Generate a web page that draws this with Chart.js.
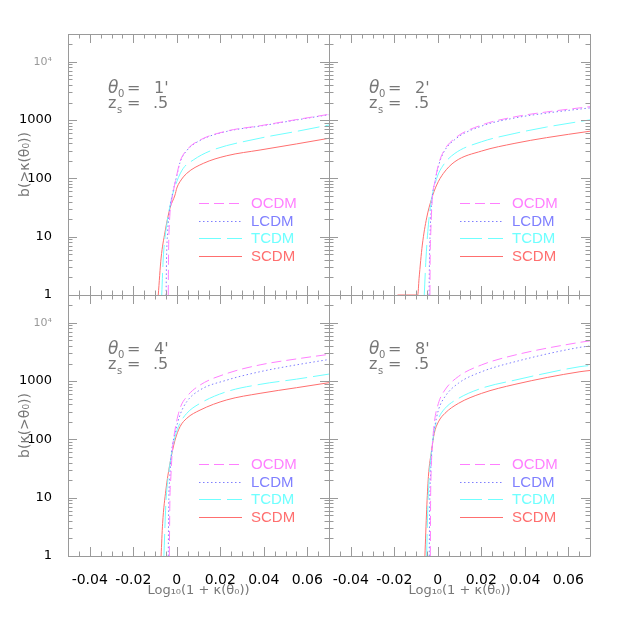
<!DOCTYPE html>
<html>
<head>
<meta charset="utf-8">
<script src="https://cdn.jsdelivr.net/npm/chart.js@4.4.0/dist/chart.umd.min.js"></script>
<style>
  html, body { margin: 0; padding: 0; background: #fff; }
  #wrap { position: relative; width: 623px; height: 623px; }
  #wrap canvas { position: absolute; left: 0; top: 0; }
</style>
</head>
<body>
<div id="wrap">
  <canvas id="p1" width="623" height="623"></canvas>
  <canvas id="p2" width="623" height="623"></canvas>
  <canvas id="p3" width="623" height="623"></canvas>
  <canvas id="p4" width="623" height="623"></canvas>
</div>
<script>
// models, drawn in legend order
const models = ['OCDM', 'LCDM', 'TCDM', 'SCDM'];
const modelColors = ['#ff7fff', '#7f7fff', '#6fffff', '#ff6f6f'];
const modelDash = [[10, 5], [1.5, 2.5], [22, 6], []];

const thetas = ["1'", "2'", "4'", "8'"];
const xTicks = [-0.04, -0.02, 0, 0.02, 0.04, 0.06];
const xTickLabels = ['-0.04', '-0.02', '0', '0.02', '0.04', '0.06'];
const yTicks = [1, 10, 100, 1000, 10000];
const yTickLabels = ['1', '10', '100', '1000', '10⁴'];

// [log10(1+kappa), b]
const th1_OCDM = [[-0.0039,1],[-0.0038,4],[-0.0034,16],[-0.0026,35],[-0.0016,59],[0.0,114],[0.0015,194],[0.0046,307],[0.0107,455],[0.023,650],[0.0383,800],[0.0536,1000],[0.07,1257]];
const th1_LCDM = [[-0.0049,1],[-0.0047,4],[-0.0042,12],[-0.0032,30],[-0.0018,58],[0.0,110],[0.0015,188],[0.0046,300],[0.0107,448],[0.023,640],[0.0383,790],[0.0536,985],[0.07,1240]];
const th1_TCDM = [[-0.0069,1],[-0.0062,4.3],[-0.0046,16],[-0.0023,46],[0.0,88],[0.003,149],[0.0076,207],[0.0153,295],[0.0383,490],[0.055,640],[0.07,824]];
const th1_SCDM = [[-0.0085,1],[-0.0072,4.3],[-0.0054,12],[-0.0031,31],[-0.0008,52],[0.0,68],[0.0015,88],[0.0046,122],[0.0122,181],[0.023,245],[0.0383,307],[0.055,390],[0.07,488]];

const th2_OCDM = [[-0.0036,1],[-0.0035,4],[-0.0032,12],[-0.0025,45],[-0.0013,88],[0.0003,170],[0.0026,287],[0.0079,488],[0.0202,824],[0.0355,1140],[0.05,1380],[0.07,1700]];
const th2_LCDM = [[-0.0040,1],[-0.0038,4],[-0.0035,12],[-0.0027,42],[-0.0014,84],[0.0003,162],[0.0026,275],[0.0079,465],[0.0202,790],[0.0355,1090],[0.05,1320],[0.07,1620]];
const th2_TCDM = [[-0.0062,1],[-0.0054,4.3],[-0.0043,16],[-0.0028,45],[-0.0005,100],[0.0026,170],[0.0079,269],[0.0202,426],[0.0355,592],[0.05,760],[0.07,1010]];
const th2_SCDM = [[-0.0185,1],[-0.0092,1],[-0.0086,1.9],[-0.0071,7.2],[-0.0051,21],[-0.0028,45],[-0.0005,77],[0.0026,122],[0.0079,194],[0.0202,295],[0.0355,400],[0.05,500],[0.07,645]];

const th4_OCDM = [[-0.0034,1],[-0.0032,7],[-0.0027,23],[-0.002,66],[-0.0008,145],[0.0015,340],[0.0046,540],[0.0107,855],[0.023,1350],[0.0383,1900],[0.055,2400],[0.07,2880]];
const th4_LCDM = [[-0.0039,1],[-0.0037,7],[-0.0032,22],[-0.0024,60],[-0.0008,127],[0.0015,262],[0.0046,444],[0.0107,705],[0.023,1040],[0.0383,1450],[0.055,1900],[0.07,2350]];
const th4_TCDM = [[-0.0059,1],[-0.005,8],[-0.0039,23],[-0.0023,58],[-0.0008,111],[0.0015,190],[0.0046,280],[0.0107,415],[0.023,660],[0.0383,880],[0.055,1080],[0.07,1320]];
const th4_SCDM = [[-0.0072,1],[-0.0065,3.6],[-0.005,13.5],[-0.0031,39],[-0.0008,97],[0.0015,165],[0.0046,230],[0.0107,318],[0.023,476],[0.0383,617],[0.055,770],[0.07,940]];

const th8_OCDM = [[-0.0034,1],[-0.0033,8],[-0.0031,23],[-0.0025,75],[-0.0016,190],[0.0003,415],[0.0033,705],[0.0095,1200],[0.0202,1900],[0.0355,2800],[0.0654,4630],[0.07,4900]];
const th8_LCDM = [[-0.0039,1],[-0.0037,8],[-0.0033,25],[-0.0026,70],[-0.0016,145],[0.0003,318],[0.0033,540],[0.0095,920],[0.0202,1450],[0.0355,2150],[0.0654,3800],[0.07,4000]];
const th8_TCDM = [[-0.0051,1],[-0.0046,6.2],[-0.0039,23],[-0.0028,66],[-0.0016,145],[0.0003,230],[0.0033,340],[0.0095,505],[0.0202,755],[0.0355,1040],[0.0654,1770],[0.07,1850]];
const th8_SCDM = [[-0.0059,1],[-0.0051,6.2],[-0.0043,23],[-0.0028,66],[-0.0016,127],[0.0003,200],[0.0033,280],[0.0095,415],[0.0202,617],[0.0355,880],[0.0654,1450],[0.07,1520]];

const panels = [
  { id: 'p1', row: 0, col: 0, theta: thetas[0], yTitle: 'b(>κ(θ₀))', curves: [th1_OCDM, th1_LCDM, th1_TCDM, th1_SCDM] },
  { id: 'p2', row: 0, col: 1, theta: thetas[1], yTitle: null, curves: [th2_OCDM, th2_LCDM, th2_TCDM, th2_SCDM] },
  { id: 'p3', row: 1, col: 0, theta: thetas[2], yTitle: 'b(κ(>θ₀))', curves: [th4_OCDM, th4_LCDM, th4_TCDM, th4_SCDM] },
  { id: 'p4', row: 1, col: 1, theta: thetas[3], yTitle: null, curves: [th8_OCDM, th8_LCDM, th8_TCDM, th8_SCDM] }
];

const PANEL = 261, LEFT0 = 68, TOP0 = 34, Y_W = 60;
const GRAY = '#9a9a9a', TEXT_GRAY = '#777';

// frame + inward ticks on all four sides
const frameTicks = {
  id: 'frameTicks',
  afterDraw(chart) {
    const { ctx, chartArea: a, scales: { x, y } } = chart;
    ctx.save();
    ctx.strokeStyle = GRAY;
    ctx.lineWidth = 1;
    ctx.beginPath();
    ctx.rect(a.left + 0.5, a.top + 0.5, a.right - a.left, a.bottom - a.top);
    for (let i = 0; i <= 24; i++) {
      const v = x.min + i * 0.005;
      const major = Math.abs(v / 0.02 - Math.round(v / 0.02)) < 1e-6;
      const len = major ? 9 : 4.5;
      const px = Math.round(x.getPixelForValue(v)) + 0.5;
      ctx.moveTo(px, a.bottom); ctx.lineTo(px, a.bottom - len);
      ctx.moveTo(px, a.top); ctx.lineTo(px, a.top + len);
    }
    for (let k = 0; k <= 4; k++) {
      for (let m = 1; m <= 9; m++) {
        const v = m * Math.pow(10, k);
        if (v > y.max) break;
        const len = m === 1 ? 9 : 4.5;
        const py = Math.round(y.getPixelForValue(v)) + 0.5;
        ctx.moveTo(a.left, py); ctx.lineTo(a.left + len, py);
        ctx.moveTo(a.right, py); ctx.lineTo(a.right - len, py);
      }
    }
    ctx.stroke();
    ctx.restore();
  }
};

// theta/z_s note, legend and the rotated y title
const panelText = {
  id: 'panelText',
  afterDraw(chart, args, opts) {
    const { ctx, chartArea: a } = chart;
    const L = a.left, T = a.top;
    ctx.save();
    ctx.fillStyle = TEXT_GRAY;
    ctx.textAlign = 'left';
    ctx.textBaseline = 'alphabetic';
    ctx.font = 'italic 17px "DejaVu Sans"';
    ctx.fillText('θ', L + 40, T + 59);
    ctx.font = '10px "DejaVu Sans"';
    ctx.fillText('0', L + 50, T + 63);
    ctx.font = '16px "DejaVu Sans"';
    ctx.fillText('=', L + 59, T + 59);
    ctx.fillText(opts.theta, L + 86, T + 59);
    ctx.fillText('z', L + 40, T + 74);
    ctx.font = '10px "DejaVu Sans"';
    ctx.fillText('s', L + 49, T + 79);
    ctx.font = '16px "DejaVu Sans"';
    ctx.fillText('=', L + 59, T + 74);
    ctx.fillText('.5', L + 85, T + 74);

    ctx.font = '15px "Liberation Sans"';
    ctx.textBaseline = 'middle';
    chart.data.datasets.forEach((ds, i) => {
      const yy = Math.round(T + 169 + i * 17.5) + 0.5;
      ctx.strokeStyle = ds.borderColor;
      ctx.lineWidth = 1;
      ctx.setLineDash(ds.borderDash);
      ctx.beginPath();
      ctx.moveTo(L + 131, yy); ctx.lineTo(L + 174, yy);
      ctx.stroke();
      ctx.setLineDash([]);
      ctx.fillStyle = ds.borderColor;
      ctx.fillText(ds.label, L + 183, yy);
    });

    if (opts.yTitle) {
      ctx.translate(25, (a.top + a.bottom) / 2);
      ctx.rotate(-Math.PI / 2);
      ctx.fillStyle = TEXT_GRAY;
      ctx.textAlign = 'center';
      ctx.font = '14px "DejaVu Sans"';
      ctx.fillText(opts.yTitle, 0, 0);
    }
    ctx.restore();
  }
};

function makePanel(p) {
  const L = LEFT0 + p.col * PANEL, T = TOP0 + p.row * PANEL;
  const bottomRow = p.row === 1, leftCol = p.col === 0;
  const xH = bottomRow ? 623 - T - PANEL : 10;
  return new Chart(document.getElementById(p.id), {
    type: 'line',
    data: {
      datasets: models.map((m, i) => ({
        label: m,
        data: p.curves[i].map(([x, y]) => ({ x, y })),
        borderColor: modelColors[i],
        borderDash: modelDash[i],
        borderWidth: 1,
        pointRadius: 0,
        cubicInterpolationMode: 'monotone',
        fill: false
      }))
    },
    options: {
      responsive: false,
      animation: false,
      events: [],
      layout: { padding: { left: L - Y_W, top: T, right: 623 - L - PANEL, bottom: 623 - T - PANEL - xH } },
      plugins: {
        legend: { display: false },
        tooltip: { enabled: false },
        panelText: { theta: p.theta, yTitle: leftCol ? p.yTitle : null }
      },
      scales: {
        x: {
          type: 'linear', min: -0.05, max: 0.07,
          afterBuildTicks: s => { s.ticks = xTicks.map(v => ({ value: v })); },
          afterFit: s => { s.height = xH; },
          grid: { display: false },
          border: { display: false },
          ticks: {
            display: bottomRow, padding: 8, color: '#000', maxRotation: 0, autoSkip: false,
            font: { family: 'DejaVu Sans', size: 14 },
            callback: (v, i) => xTickLabels[i]
          },
          title: {
            display: bottomRow, text: 'Log₁₀(1 + κ(θ₀))', color: TEXT_GRAY,
            font: { family: 'DejaVu Sans', size: 13 }, padding: { top: 0, bottom: 25 }
          }
        },
        y: {
          type: 'logarithmic', min: 1, max: 30000,
          afterBuildTicks: s => { s.ticks = yTicks.map(v => ({ value: v })); },
          afterFit: s => { s.width = Y_W; },
          grid: { display: false },
          border: { display: false },
          ticks: {
            display: leftCol, padding: 8, autoSkip: false,
            color: c => (c.tick && c.tick.value === 10000) ? '#999' : '#000',
            font: c => (c.tick && c.tick.value === 10000) ? { family: 'DejaVu Sans', size: 11 } : { family: 'DejaVu Sans', size: 13 },
            callback: (v, i) => yTickLabels[i]
          }
        }
      }
    },
    plugins: [frameTicks, panelText]
  });
}

panels.forEach(makePanel);
</script>
</body>
</html>
